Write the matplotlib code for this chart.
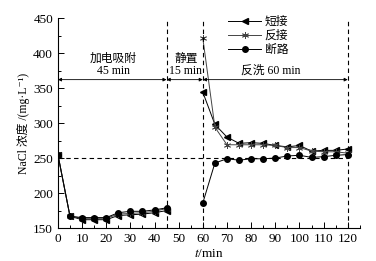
import matplotlib
matplotlib.use("Agg")
import matplotlib.pyplot as plt
from matplotlib.ticker import MultipleLocator

plt.rcParams['font.family'] = ['Liberation Serif', 'Noto Sans CJK SC', 'DejaVu Serif']
plt.rcParams['mathtext.fontset'] = 'stix'
plt.rcParams['axes.unicode_minus'] = False

# adsorption stage (0-45 min)
t1 = [0, 5, 10, 15, 20, 25, 30, 35, 40, 45]
duan_jie_1 = [255, 167, 162, 162, 162, 168, 169, 170, 172, 175]
fan_jie_1 = [255, 167, 164, 164, 164, 170, 171, 172, 174, 178]
duan_lu_1 = [255, 167, 165, 165, 165, 172, 174, 174, 176, 179]

# backwash stage (60-120 min)
t2 = [60, 65, 70, 75, 80, 85, 90, 95, 100, 105, 110, 115, 120]
duan_jie_2 = [344, 298, 280, 271, 272, 271, 268, 266, 268, 260, 261, 261, 263]
fan_jie_2 = [421, 294, 269, 269, 269, 269, 268, 265, 265, 260, 259, 259, 257]
duan_lu_2 = [186, 243, 249, 247, 249, 249, 250, 253, 254, 251, 252, 254, 255]

fig = plt.figure(figsize=(3.76, 2.61), dpi=100)
ax = fig.add_axes([0.154, 0.126, 0.803, 0.805])

lw = 0.7
ax.plot(t1, duan_jie_1, color='black', lw=lw, marker='<', ms=4.5)
ax.plot(t2, duan_jie_2, color='black', lw=lw, marker='<', ms=4.5, label='短接')
ax.plot(t1, fan_jie_1, color='#444444', lw=lw, marker=(6, 2, 0), ms=5, mew=0.6)
ax.plot(t2, fan_jie_2, color='#444444', lw=lw, marker=(6, 2, 0), ms=5, mew=0.6, label='反接')
ax.plot(t1, duan_lu_1, color='black', lw=lw, marker='o', ms=4)
ax.plot(t2, duan_lu_2, color='black', lw=lw, marker='o', ms=4, label='断路')

# reference lines
ax.plot([0, 120], [250, 250], color='black', lw=0.8, ls=(0, (4, 3)))
for xv in [45, 60, 120]:
    ax.axvline(xv, color='black', lw=0.8, ls=(0, (4, 3)))

# stage arrows
ya = 362
for a, b in [(0, 45), (45, 60), (60, 120)]:
    ax.annotate('', xy=(a, ya), xytext=(b, ya),
                arrowprops=dict(arrowstyle='<|-|>', color='black', lw=0.6,
                                mutation_scale=5, shrinkA=0, shrinkB=0))
ax.text(23, 366, '加电吸附\n45 min', ha='center', va='bottom', fontsize=8.5, linespacing=0.95)
ax.text(53, 366, '静置\n15 min', ha='center', va='bottom', fontsize=8.5, linespacing=0.95)
ax.text(88, 366, '反洗 60 min', ha='center', va='bottom', fontsize=8.5)

ax.set_xlim(0, 125)
ax.set_ylim(150, 450)
ax.xaxis.set_major_locator(MultipleLocator(10))
ax.xaxis.set_minor_locator(MultipleLocator(5))
ax.yaxis.set_major_locator(MultipleLocator(50))
ax.yaxis.set_minor_locator(MultipleLocator(25))
ax.tick_params(which='both', direction='in', labelsize=9.5, width=0.7)
ax.tick_params(which='major', length=4)
ax.tick_params(which='minor', length=2.5)
ax.spines['top'].set_visible(False)
ax.spines['right'].set_visible(False)
for s in ['left', 'bottom']:
    ax.spines[s].set_linewidth(0.8)

ax.set_xlabel('$t$/min', fontsize=9.5, labelpad=2)
ax.set_ylabel('NaCl 浓度 /(mg·L⁻¹)', fontsize=8.5, labelpad=2)

ax.legend(loc='upper left', bbox_to_anchor=(0.54, 1.045), frameon=False, fontsize=8.5,
          handlelength=2.8, handletextpad=0.3, labelspacing=0.2, borderaxespad=0.2)

fig.savefig('out.png', dpi=100)
